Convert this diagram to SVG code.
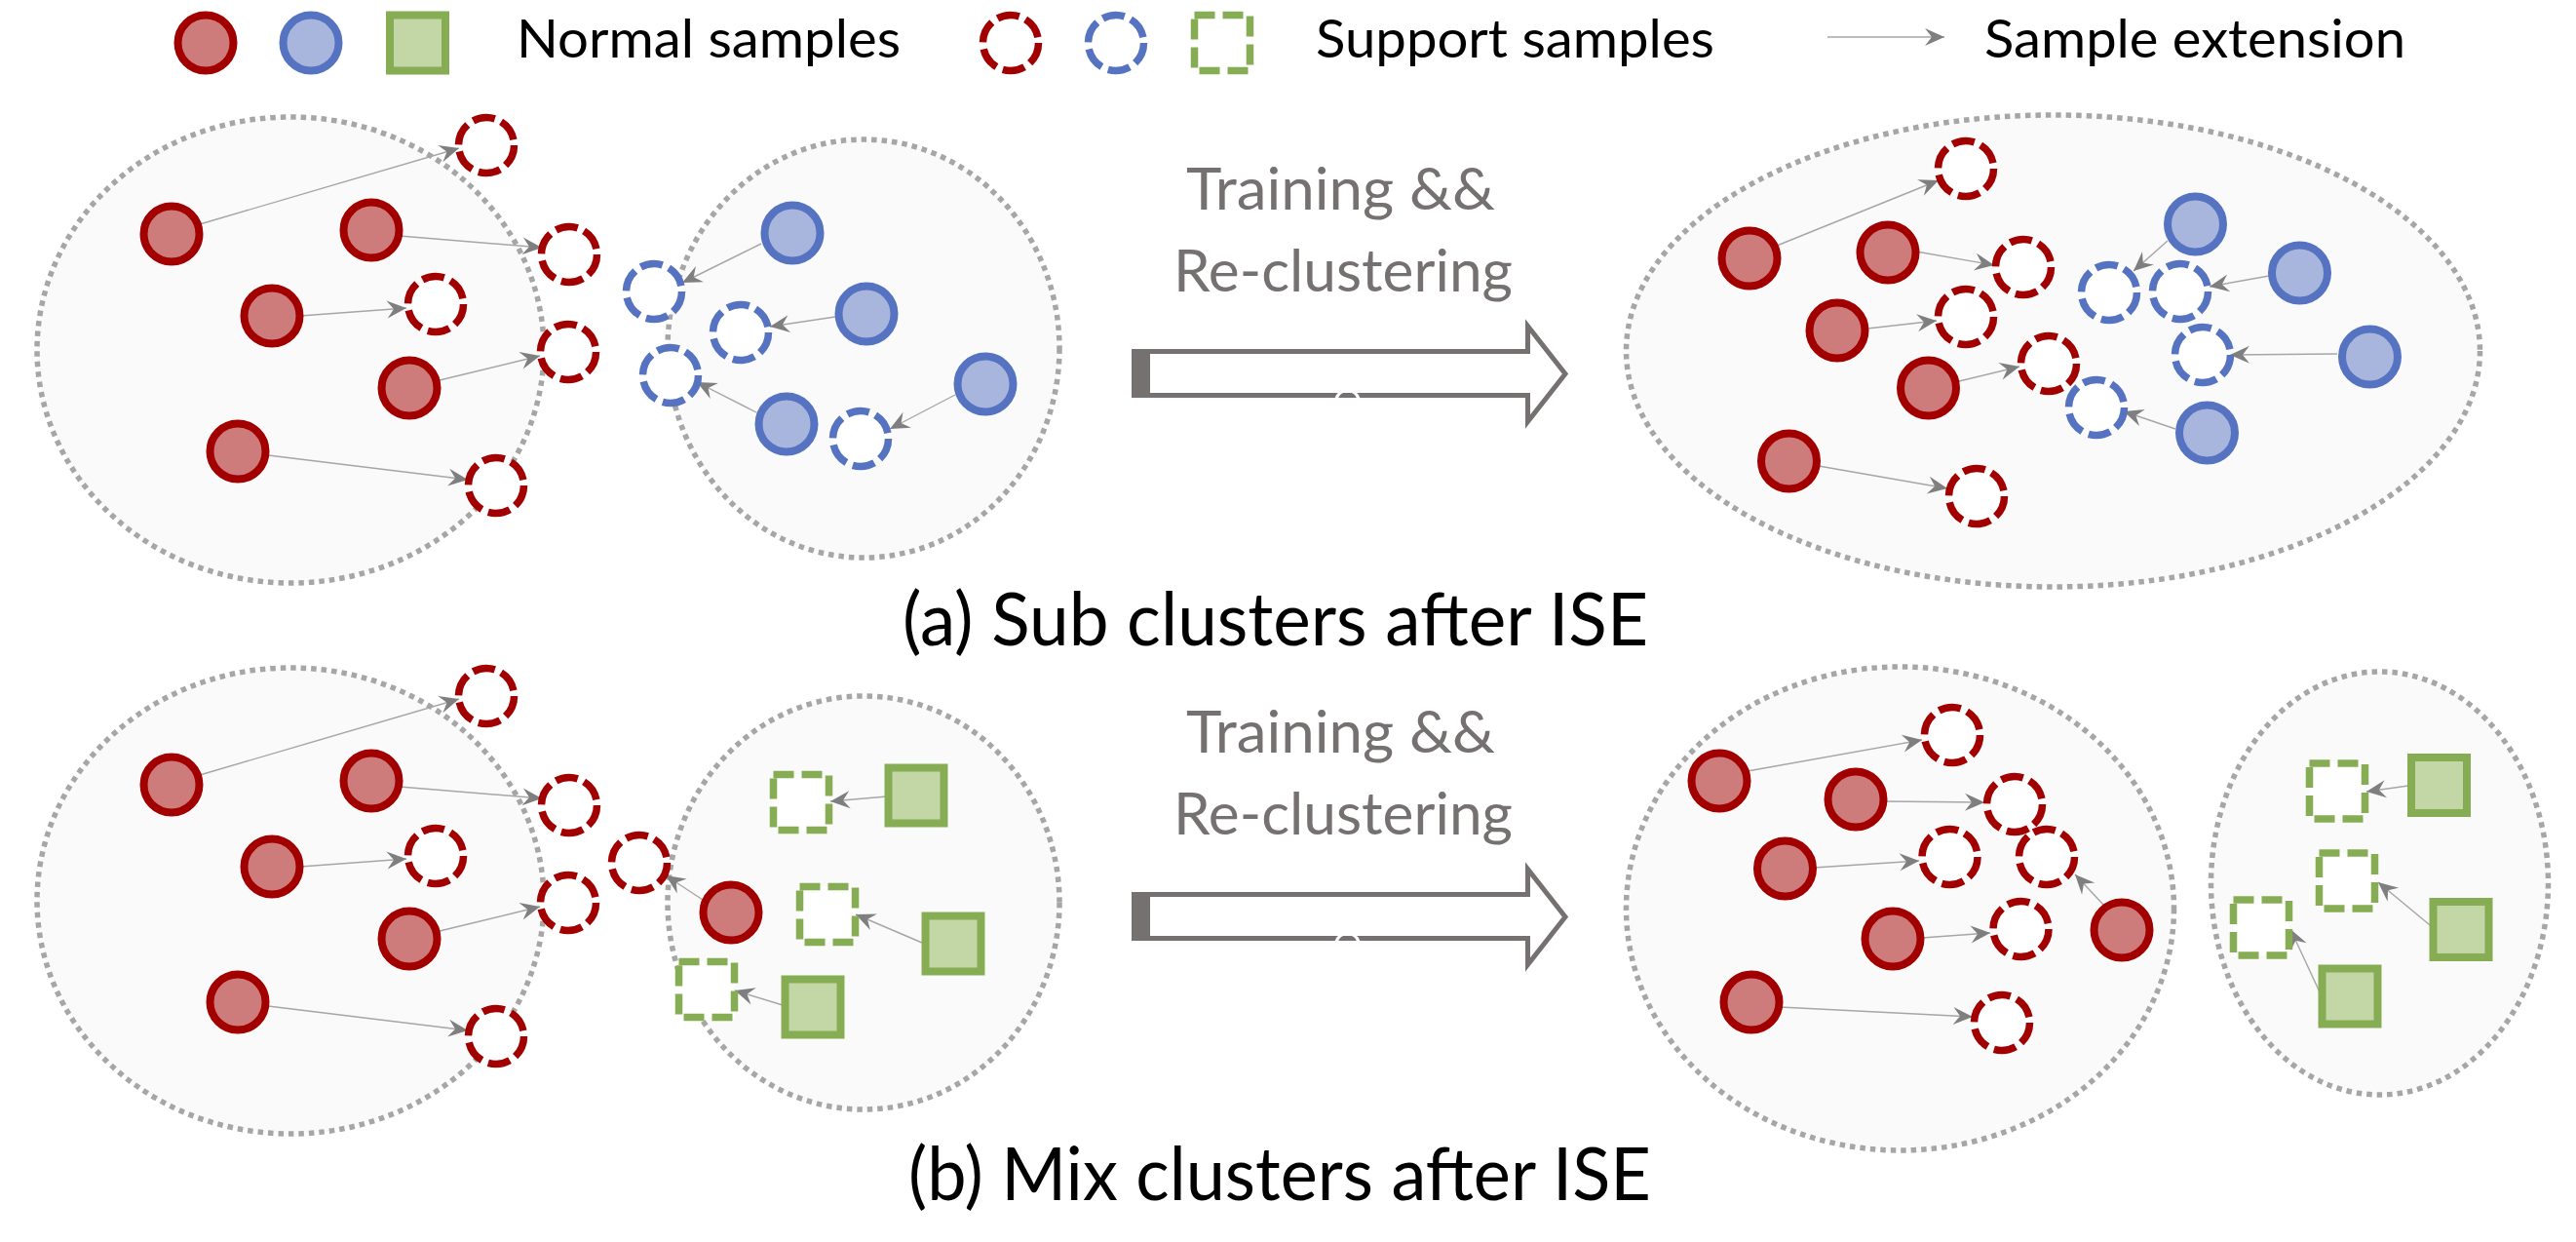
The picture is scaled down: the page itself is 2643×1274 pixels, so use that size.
<svg xmlns="http://www.w3.org/2000/svg" width="2643" height="1274" viewBox="0 0 2643 1274">
<defs>
<style>
.cl{fill:#FAFAFA;stroke:#A6A6A6;stroke-width:5.5;stroke-dasharray:5.5 5}
.rn{fill:#CD7B7B;stroke:#A20000;stroke-width:8}
.bn{fill:#A8B6DE;stroke:#5673C2;stroke-width:8}
.gn{fill:#C3D6A6;stroke:#86AD53;stroke-width:8}
.rs{fill:#FFFFFF;stroke:#A20000;stroke-width:7.5;stroke-dasharray:23 7}
.bs{fill:#FFFFFF;stroke:#5673C2;stroke-width:7.5;stroke-dasharray:23 7}
.gs{fill:#FFFFFF;stroke:#86AD53;stroke-width:7.5;stroke-dasharray:21 8}
.ln{fill:none;stroke:#A6A6A6;stroke-width:1.4;marker-end:url(#ah)}
.big{fill:#FFFFFF;stroke:#767171;stroke-width:5}
.t{font-family:Lato,"Open Sans","Liberation Sans",sans-serif;fill:#000000}
.tg{font-family:Lato,"Open Sans","Liberation Sans",sans-serif;fill:#767171;font-size:60px}
.cap{font-family:Lato,"Open Sans","Liberation Sans",sans-serif;fill:#000000;font-size:76px}
</style>
<marker id="ah" viewBox="-21 -10 22 20" refX="0" refY="0" markerWidth="22" markerHeight="20" markerUnits="userSpaceOnUse" orient="auto">
<path d="M0,0 L-20,-9 L-13,0 L-20,9 Z" fill="#7F7F7F"/>
</marker>
</defs>
<rect width="2643" height="1274" fill="#FFFFFF"/>

<!-- Legend -->
<g id="legend">
<circle class="rn" cx="211" cy="44" r="28.5"/>
<circle class="bn" cx="319" cy="44" r="28.5"/>
<rect class="gn" x="400" y="15.5" width="57" height="57"/>
<text class="t" x="530" y="59" font-size="55" textLength="394" lengthAdjust="spacingAndGlyphs">Normal samples</text>
<circle class="rs" cx="1037" cy="44" r="28.5"/>
<circle class="bs" cx="1145" cy="44" r="28.5"/>
<rect class="gs" x="1225.5" y="15.5" width="57" height="57"/>
<text class="t" x="1350" y="59" font-size="55" textLength="409" lengthAdjust="spacingAndGlyphs">Support samples</text>
<line class="ln" x1="1875" y1="38" x2="1995" y2="38"/>
<text class="t" x="2036" y="59" font-size="55" textLength="432" lengthAdjust="spacingAndGlyphs">Sample extension</text>
</g>

<!-- Clusters (a) -->
<g id="cluster-a-left"><ellipse class="cl" cx="298" cy="359" rx="260" ry="239"/></g>
<g id="cluster-a-mid"><ellipse class="cl" cx="886" cy="357.5" rx="201" ry="214.5"/></g>
<g id="cluster-a-right"><ellipse class="cl" cx="2106.5" cy="360" rx="438" ry="242"/></g>
<!-- Clusters (b) -->
<g id="cluster-b-left"><ellipse class="cl" cx="298" cy="924" rx="260" ry="239"/></g>
<g id="cluster-b-mid"><ellipse class="cl" cx="886" cy="926" rx="201" ry="212"/></g>
<g id="cluster-b-right"><ellipse class="cl" cx="1949.5" cy="932" rx="281" ry="248"/></g>
<g id="cluster-b-green"><ellipse class="cl" cx="2441.5" cy="906" rx="173" ry="217"/></g>

<!-- Connectors -->
<g id="connectors">
<line class="ln" x1="205" y1="230" x2="471" y2="152"/>
<line class="ln" x1="410" y1="242" x2="556" y2="254"/>
<line class="ln" x1="308" y1="324" x2="417" y2="316"/>
<line class="ln" x1="451" y1="390" x2="554" y2="365"/>
<line class="ln" x1="275" y1="467" x2="480" y2="492"/>
<line class="ln" x1="781" y1="250" x2="700" y2="290"/>
<line class="ln" x1="857" y1="325" x2="790" y2="335"/>
<line class="ln" x1="776" y1="423" x2="715" y2="392"/>
<line class="ln" x1="980" y1="405" x2="913" y2="440"/>
<line class="ln" x1="1823" y1="252" x2="1989" y2="185"/>
<line class="ln" x1="1966" y1="258" x2="2046" y2="272"/>
<line class="ln" x1="1916" y1="337" x2="1987" y2="329"/>
<line class="ln" x1="2006" y1="392" x2="2072" y2="376"/>
<line class="ln" x1="1866" y1="478" x2="1998" y2="501"/>
<line class="ln" x1="2224" y1="247" x2="2189" y2="278"/>
<line class="ln" x1="2328" y1="283" x2="2267" y2="294"/>
<line class="ln" x1="2398" y1="363" x2="2288" y2="364"/>
<line class="ln" x1="2232" y1="440" x2="2179" y2="422"/>
<line class="ln" x1="205" y1="795" x2="471" y2="717"/>
<line class="ln" x1="410" y1="807" x2="556" y2="819"/>
<line class="ln" x1="308" y1="889" x2="417" y2="881"/>
<line class="ln" x1="451" y1="955" x2="554" y2="930"/>
<line class="ln" x1="275" y1="1032" x2="480" y2="1057"/>
<line class="ln" x1="721" y1="923" x2="683" y2="898"/>
<line class="ln" x1="910" y1="817" x2="852" y2="822"/>
<line class="ln" x1="946" y1="967" x2="878" y2="938"/>
<line class="ln" x1="803" y1="1031" x2="754" y2="1016"/>
<line class="ln" x1="1793" y1="791" x2="1972" y2="759"/>
<line class="ln" x1="1933" y1="822" x2="2036" y2="823"/>
<line class="ln" x1="1861" y1="890" x2="1969" y2="883"/>
<line class="ln" x1="1972" y1="962" x2="2042" y2="957"/>
<line class="ln" x1="1826" y1="1033" x2="2024" y2="1043"/>
<line class="ln" x1="2159" y1="929" x2="2129" y2="897"/>
<line class="ln" x1="2471" y1="806" x2="2428" y2="812"/>
<line class="ln" x1="2498" y1="953" x2="2440" y2="905"/>
<line class="ln" x1="2382" y1="1022" x2="2350" y2="953"/>
</g>

<!-- (a) nodes -->
<g id="a-r1"><circle class="rn" cx="176" cy="240" r="28.5"/></g>
<g id="a-r2"><circle class="rn" cx="381" cy="236" r="28.5"/></g>
<g id="a-r3"><circle class="rn" cx="279" cy="324" r="28.5"/></g>
<g id="a-r4"><circle class="rn" cx="420" cy="398" r="28.5"/></g>
<g id="a-r5"><circle class="rn" cx="244" cy="463" r="28.5"/></g>
<g id="a-rs1"><circle class="rs" cx="499" cy="149" r="28.5"/></g>
<g id="a-rs2"><circle class="rs" cx="584" cy="261" r="28.5"/></g>
<g id="a-rs3"><circle class="rs" cx="447" cy="312" r="28.5"/></g>
<g id="a-rs4"><circle class="rs" cx="583" cy="361" r="28.5"/></g>
<g id="a-rs5"><circle class="rs" cx="509" cy="498" r="28.5"/></g>
<g id="a-bs1"><circle class="bs" cx="671" cy="299" r="28.5"/></g>
<g id="a-bs2"><circle class="bs" cx="760" cy="341" r="28.5"/></g>
<g id="a-bs3"><circle class="bs" cx="688" cy="385" r="28.5"/></g>
<g id="a-bs4"><circle class="bs" cx="883" cy="450" r="28.5"/></g>
<g id="a-b1"><circle class="bn" cx="813" cy="239" r="28.5"/></g>
<g id="a-b2"><circle class="bn" cx="889" cy="322" r="28.5"/></g>
<g id="a-b3"><circle class="bn" cx="1011" cy="394" r="28.5"/></g>
<g id="a-b4"><circle class="bn" cx="807" cy="435" r="28.5"/></g>

<g id="a-arrow">
<path class="big" d="M1163.5,360.5 H1567.5 V334.5 L1606,383.5 L1567.5,432.5 V405.5 H1163.5 Z"/>
<rect x="1161" y="358" width="19" height="50" fill="#767171"/>
<path d="M1371,409 A12,12 0 0 1 1394,409" fill="none" stroke="#FFFFFF" stroke-width="3"/>
<text class="tg" x="1217" y="215" textLength="317" lengthAdjust="spacingAndGlyphs">Training &amp;&amp;</text>
<text class="tg" x="1204" y="299" textLength="348" lengthAdjust="spacingAndGlyphs">Re-clustering</text>
</g>

<g id="a-R-r1"><circle class="rn" cx="1795" cy="265" r="28.5"/></g>
<g id="a-R-r2"><circle class="rn" cx="1937" cy="259" r="28.5"/></g>
<g id="a-R-r3"><circle class="rn" cx="1885" cy="339" r="28.5"/></g>
<g id="a-R-r4"><circle class="rn" cx="1978.5" cy="398" r="28.5"/></g>
<g id="a-R-r5"><circle class="rn" cx="1835.5" cy="473" r="28.5"/></g>
<g id="a-R-rs1"><circle class="rs" cx="2017" cy="173" r="28.5"/></g>
<g id="a-R-rs2"><circle class="rs" cx="2076" cy="274" r="28.5"/></g>
<g id="a-R-rs3"><circle class="rs" cx="2017" cy="325" r="28.5"/></g>
<g id="a-R-rs4"><circle class="rs" cx="2102" cy="373" r="28.5"/></g>
<g id="a-R-rs5"><circle class="rs" cx="2028" cy="509" r="28.5"/></g>
<g id="a-R-b1"><circle class="bn" cx="2252.5" cy="230" r="28.5"/></g>
<g id="a-R-b2"><circle class="bn" cx="2359.5" cy="280" r="28.5"/></g>
<g id="a-R-b3"><circle class="bn" cx="2431.5" cy="366" r="28.5"/></g>
<g id="a-R-b4"><circle class="bn" cx="2264.5" cy="444" r="28.5"/></g>
<g id="a-R-bs1"><circle class="bs" cx="2164" cy="300" r="28.5"/></g>
<g id="a-R-bs2"><circle class="bs" cx="2237" cy="299" r="28.5"/></g>
<g id="a-R-bs3"><circle class="bs" cx="2260" cy="364" r="28.5"/></g>
<g id="a-R-bs4"><circle class="bs" cx="2151" cy="418" r="28.5"/></g>

<text id="caption-a" class="cap" x="926" y="662" textLength="765" lengthAdjust="spacingAndGlyphs">(a) Sub clusters after ISE</text>

<!-- (b) nodes -->
<g id="b-r1"><circle class="rn" cx="176" cy="805" r="28.5"/></g>
<g id="b-r2"><circle class="rn" cx="381" cy="801" r="28.5"/></g>
<g id="b-r3"><circle class="rn" cx="279" cy="889" r="28.5"/></g>
<g id="b-r4"><circle class="rn" cx="420" cy="963" r="28.5"/></g>
<g id="b-r5"><circle class="rn" cx="244" cy="1028" r="28.5"/></g>
<g id="b-rs1"><circle class="rs" cx="499" cy="714" r="28.5"/></g>
<g id="b-rs2"><circle class="rs" cx="584" cy="826" r="28.5"/></g>
<g id="b-rs3"><circle class="rs" cx="447" cy="878" r="28.5"/></g>
<g id="b-rs4"><circle class="rs" cx="583" cy="926" r="28.5"/></g>
<g id="b-rs5"><circle class="rs" cx="509" cy="1063" r="28.5"/></g>
<g id="b-rs6"><circle class="rs" cx="656" cy="885" r="28.5"/></g>
<g id="b-r6"><circle class="rn" cx="750" cy="936" r="28.5"/></g>
<g id="b-gs1"><rect class="gs" x="793.5" y="794.5" width="57" height="57"/></g>
<g id="b-gs2"><rect class="gs" x="820.5" y="909.5" width="57" height="57"/></g>
<g id="b-gs3"><rect class="gs" x="696.5" y="986.5" width="57" height="57"/></g>
<g id="b-g1"><rect class="gn" x="911.5" y="787.5" width="57" height="57"/></g>
<g id="b-g2"><rect class="gn" x="949.5" y="939.5" width="57" height="57"/></g>
<g id="b-g3"><rect class="gn" x="805.5" y="1004.5" width="57" height="57"/></g>

<g id="b-arrow">
<path class="big" d="M1163.5,917.5 H1567.5 V891.5 L1606,940.5 L1567.5,989.5 V962.5 H1163.5 Z"/>
<rect x="1161" y="915" width="19" height="50" fill="#767171"/>
<path d="M1371,966 A12,12 0 0 1 1394,966" fill="none" stroke="#FFFFFF" stroke-width="3"/>
<text class="tg" x="1217" y="772" textLength="317" lengthAdjust="spacingAndGlyphs">Training &amp;&amp;</text>
<text class="tg" x="1204" y="856" textLength="348" lengthAdjust="spacingAndGlyphs">Re-clustering</text>
</g>

<g id="b-R-r1"><circle class="rn" cx="1764" cy="801" r="28.5"/></g>
<g id="b-R-r2"><circle class="rn" cx="1904" cy="820" r="28.5"/></g>
<g id="b-R-r3"><circle class="rn" cx="1831.5" cy="891" r="28.5"/></g>
<g id="b-R-r4"><circle class="rn" cx="1942" cy="963" r="28.5"/></g>
<g id="b-R-r5"><circle class="rn" cx="1797" cy="1028" r="28.5"/></g>
<g id="b-R-r6"><circle class="rn" cx="2177" cy="954" r="28.5"/></g>
<g id="b-R-rs1"><circle class="rs" cx="2003" cy="754" r="28.5"/></g>
<g id="b-R-rs2"><circle class="rs" cx="2067" cy="825" r="28.5"/></g>
<g id="b-R-rs3"><circle class="rs" cx="2000.5" cy="879" r="28.5"/></g>
<g id="b-R-rs4"><circle class="rs" cx="2100" cy="879" r="28.5"/></g>
<g id="b-R-rs5"><circle class="rs" cx="2073.5" cy="953" r="28.5"/></g>
<g id="b-R-rs6"><circle class="rs" cx="2054" cy="1049" r="28.5"/></g>
<g id="b-R-g1"><rect class="gn" x="2474" y="777" width="57" height="57"/></g>
<g id="b-R-g2"><rect class="gn" x="2496.5" y="925" width="57" height="57"/></g>
<g id="b-R-g3"><rect class="gn" x="2382.5" y="993.5" width="57" height="57"/></g>
<g id="b-R-gs1"><rect class="gs" x="2369.5" y="783" width="57" height="57"/></g>
<g id="b-R-gs2"><rect class="gs" x="2379.5" y="875" width="57" height="57"/></g>
<g id="b-R-gs3"><rect class="gs" x="2291.5" y="923" width="57" height="57"/></g>

<text id="caption-b" class="cap" x="932" y="1231" textLength="762" lengthAdjust="spacingAndGlyphs">(b) Mix clusters after ISE</text>
</svg>
